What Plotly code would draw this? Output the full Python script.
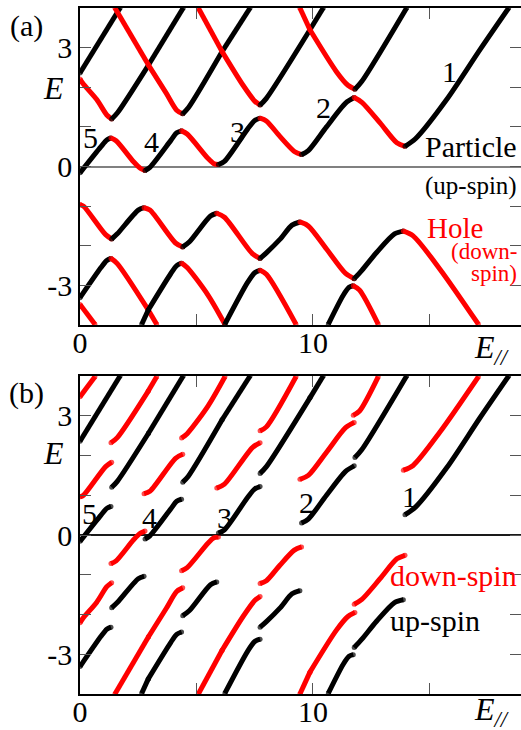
import plotly.graph_objects as go

# ---------------- data (panel (a) coordinates: E_// , E) -------------
# each entry: (colour key, E_parallel values, E values)
particle_upper = [
    ("k", [0, 1.72], [2.36, 4.0]),
    ("r", [0, 0.12, 0.72, 1.15, 1.36], [2.21, 2.1, 1.69, 1.3, 1.2]),
    ("k", [1.36, 1.6, 2.94], [1.2, 1.35, 2.56]),
    ("k", [2.94, 4.43], [2.56, 4.0]),
    ("r", [1.5, 2.94], [4.0, 2.56]),
    ("r", [2.94, 3.7, 4.15, 4.41], [2.56, 1.85, 1.42, 1.33]),
    ("k", [4.41, 4.65, 6.1], [1.33, 1.48, 2.9]),
    ("k", [6.1, 7.3], [2.9, 4.0]),
    ("r", [5.08, 6.1], [4.0, 2.9]),
    ("r", [6.1, 7.0, 7.5, 7.73], [2.9, 2.05, 1.65, 1.55]),
    ("k", [7.73, 8.0, 9.87], [1.55, 1.72, 3.45]),
    ("k", [9.87, 10.44], [3.45, 4.0]),
    ("r", [9.44, 9.87], [4.0, 3.45]),
    ("r", [9.87, 11.0, 11.5, 11.8], [3.45, 2.4, 2.05, 1.95]),
    ("k", [11.8, 12.1, 14.02], [1.95, 2.15, 4.0]),
]

particle_lower = [
    ("k", [0, 0.9, 1.15, 1.33], [-0.16, 0.5, 0.67, 0.72]),
    ("r", [1.33, 1.55, 2.3, 2.6, 2.79], [0.72, 0.65, 0.12, -0.05, -0.1]),
    ("k", [2.79, 3.0, 3.9, 4.15, 4.36], [-0.1, -0.02, 0.66, 0.85, 0.9]),
    ("r", [4.36, 4.6, 5.5, 5.75, 5.94], [0.9, 0.82, 0.2, 0.07, 0.05]),
    ("k", [5.94, 6.2, 7.2, 7.5, 7.73], [0.05, 0.13, 0.95, 1.16, 1.22]),
    ("r", [7.73, 8.0, 8.58, 9.2, 9.51], [1.22, 1.15, 0.76, 0.38, 0.3]),
    ("k", [9.51, 9.8, 10.58, 11.4, 11.77], [0.3, 0.4, 1.0, 1.6, 1.74]),
    ("r", [11.77, 12.1, 12.88, 13.6, 13.95], [1.74, 1.62, 1.1, 0.6, 0.51]),
    ("k", [13.95, 14.4, 15.74, 17.17, 18.4], [0.51, 0.7, 1.69, 2.95, 4.0]),
]

hole_upper = [
    ("r", [0, 0.15, 1.1, 1.36], [-0.96, -1.0, -1.72, -1.83]),
    ("k", [1.36, 1.6, 2.5, 2.75], [-1.83, -1.7, -1.1, -1.04]),
    ("r", [2.75, 3.0, 4.1, 4.41], [-1.04, -1.1, -1.93, -2.03]),
    ("k", [4.41, 4.7, 5.6, 5.87], [-2.03, -1.9, -1.25, -1.18]),
    ("r", [5.87, 6.2, 7.4, 7.73], [-1.18, -1.28, -2.2, -2.32]),
    ("k", [7.73, 8.0, 8.58, 9.1, 9.44], [-2.32, -2.18, -1.84, -1.48, -1.40]),
    ("r", [9.44, 9.8, 10.59, 11.4, 11.77], [-1.40, -1.5, -2.09, -2.7, -2.83]),
    ("k", [11.77, 12.1, 12.73, 13.5, 13.88], [-2.83, -2.62, -2.17, -1.7, -1.63]),
    ("r", [13.88, 14.3, 15.45, 17.1], [-1.63, -1.75, -2.59, -3.98]),
]

hole_lower = [
    ("k", [0, 0.9, 1.15, 1.33], [-3.31, -2.55, -2.37, -2.32]),
    ("r", [1.33, 1.6, 2.93], [-2.32, -2.45, -3.62]),
    ("r", [2.93, 3.29], [-3.62, -3.98]),
    ("k", [2.65, 2.93], [-3.98, -3.62]),
    ("k", [2.93, 3.9, 4.15, 4.36], [-3.62, -2.7, -2.5, -2.44]),
    ("r", [4.36, 4.6, 5.5, 6.22], [-2.44, -2.55, -3.25, -3.98]),
    ("k", [6.22, 7.2, 7.5, 7.73], [-3.98, -2.92, -2.68, -2.62]),
    ("r", [7.73, 8.0, 9.27], [-2.62, -2.72, -3.98]),
    ("k", [10.66, 11.3, 11.55, 11.73], [-3.98, -3.25, -3.05, -3.01]),
    ("r", [11.73, 12.0, 12.8], [-3.01, -3.12, -3.98]),
    ("r", [0, 0.64], [-3.48, -3.98]),
]

SUBBAND_LABELS = ["5", "4", "3", "2", "1"]

X_TICKS = [0, 5, 10, 15]
X_TICK_TEXT = ["0", "", "10", ""]
Y_TICKS = [-3, -2, -1, 0, 1, 2, 3]
Y_TICK_TEXT = ["-3", "", "", "0", "", "", "3"]
X_RANGE = [0, 18.93]
Y_RANGE = [-4, 4]

COLORS = {"k": "#000000", "r": "#ff0000"}
FONT = "Liberation Serif"

# ---------------- figure ----------------
W, H = 521, 730
fig = go.Figure()

all_groups = [particle_upper, particle_lower, hole_upper, hole_lower]


def end_caps(n):
    # round-looking ends: a dot on the first and last point only
    return [5] + [0] * (n - 2) + [5]


# panel (a): particle (black) / hole (red) branches as read
for grp in all_groups:
    for c, xs, es in grp:
        fig.add_trace(go.Scatter(x=xs, y=es, mode="lines+markers", xaxis="x", yaxis="y",
                                 line=dict(color=COLORS[c], width=5, shape="spline", smoothing=0.8),
                                 marker=dict(size=end_caps(len(xs)), color=COLORS[c], line=dict(width=0)),
                                 cliponaxis=True, hoverinfo="skip", showlegend=False))

# panel (b): spin-resolved view; down-spin (red) branches are the hole branches with E -> -E
for grp in all_groups:
    for c, xs, es in grp:
        ys = es if c == "k" else [-e for e in es]
        fig.add_trace(go.Scatter(x=xs, y=ys, mode="lines+markers", xaxis="x2", yaxis="y2",
                                 line=dict(color=COLORS[c], width=5, shape="spline", smoothing=0.8),
                                 marker=dict(size=end_caps(len(xs)), color=COLORS[c], line=dict(width=0)),
                                 cliponaxis=True, hoverinfo="skip", showlegend=False))

xdom = [80 / W, 1.0]
ydom_a = [1 - 325 / H, 1 - 8 / H]
ydom_b = [1 - 694 / H, 1 - 376 / H]

xcommon = dict(range=X_RANGE, tickvals=X_TICKS, ticktext=X_TICK_TEXT, ticks="inside",
               ticklen=11, tickcolor="#555555", tickwidth=1.2, showline=True, linecolor="#000000",
               linewidth=1.5, mirror="ticks", showgrid=False, zeroline=False, automargin=False,
               ticklabelstandoff=-10,
               tickfont=dict(size=30, family=FONT, color="#000"), domain=xdom, fixedrange=True)
ycommon = dict(range=Y_RANGE, tickvals=Y_TICKS, ticktext=Y_TICK_TEXT, ticks="inside",
               ticklen=11, tickcolor="#555555", tickwidth=1.2, showline=True, linecolor="#000000",
               linewidth=1.5, mirror="ticks", showgrid=False, zeroline=True, automargin=False,
               zerolinewidth=1.5,
               tickfont=dict(size=30, family=FONT, color="#000"), fixedrange=True)

fig.update_layout(
    width=W, height=H, margin=dict(l=0, r=0, t=0, b=0, pad=0), autosize=False,
    paper_bgcolor="white", plot_bgcolor="white", showlegend=False,
    font=dict(family=FONT, size=30, color="#000"),
    xaxis=dict(xcommon, anchor="y"),
    yaxis=dict(ycommon, domain=ydom_a, anchor="x", zerolinecolor="#808080"),
    xaxis2=dict(xcommon, anchor="y2"),
    yaxis2=dict(ycommon, domain=ydom_b, anchor="x2", zerolinecolor="#1a1a1a"),
)

ann = []
def add(text, x, y, xref, yref, size=30, color="#000", xanchor="center", yanchor="middle"):
    ann.append(dict(text=text, x=x, y=y, xref=xref, yref=yref, showarrow=False,
                    font=dict(size=size, color=color, family=FONT),
                    xanchor=xanchor, yanchor=yanchor))

def px(xp, yp):
    return xp / W, 1 - yp / H

# panel labels and axis titles
for lab, (xp, yp) in [("(a)", (26, 26)), ("(b)", (26, 393))]:
    add(lab, *px(xp, yp), "paper", "paper", size=30)
for yp in (88, 453):
    add("<i>E</i>", *px(53, yp), "paper", "paper", size=32)
for yp in (350, 711):
    add("<i>E</i><sub><i>//</i></sub>", *px(491, yp), "paper", "paper", size=32)

# subband numbers
pos_a = [(0.47, 0.73), (3.09, 0.63), (6.74, 0.88), (10.47, 1.49), (15.84, 2.39)]
pos_b = [(0.39, 0.55), (3.0, 0.45), (6.22, 0.45), (9.74, 0.81), (14.16, 0.96)]
for t, (x, y) in zip(SUBBAND_LABELS, pos_a):
    add(t, x, y, "x", "y", size=30)
for t, (x, y) in zip(SUBBAND_LABELS, pos_b):
    add(t, x, y, "x2", "y2", size=30)

# panel (a) descriptive texts
add("Particle", 18.85, 0.5, "x", "y", size=30, xanchor="right")
add("(up-spin)", 18.85, -0.48, "x", "y", size=25, xanchor="right")
add("Hole", 16.1, -1.55, "x", "y", size=29, color="#ff0000")
add("(down-", 18.85, -2.14, "x", "y", size=23, color="#ff0000", xanchor="right")
add("spin)", 18.85, -2.7, "x", "y", size=23, color="#ff0000", xanchor="right")

# panel (b) descriptive texts
add("down-spin", 18.85, -1.01, "x2", "y2", size=30, color="#ff0000", xanchor="right")
add("up-spin", 13.2, -2.14, "x2", "y2", size=30, xanchor="left")

fig.update_layout(annotations=ann)
fig.write_html("out.html")
